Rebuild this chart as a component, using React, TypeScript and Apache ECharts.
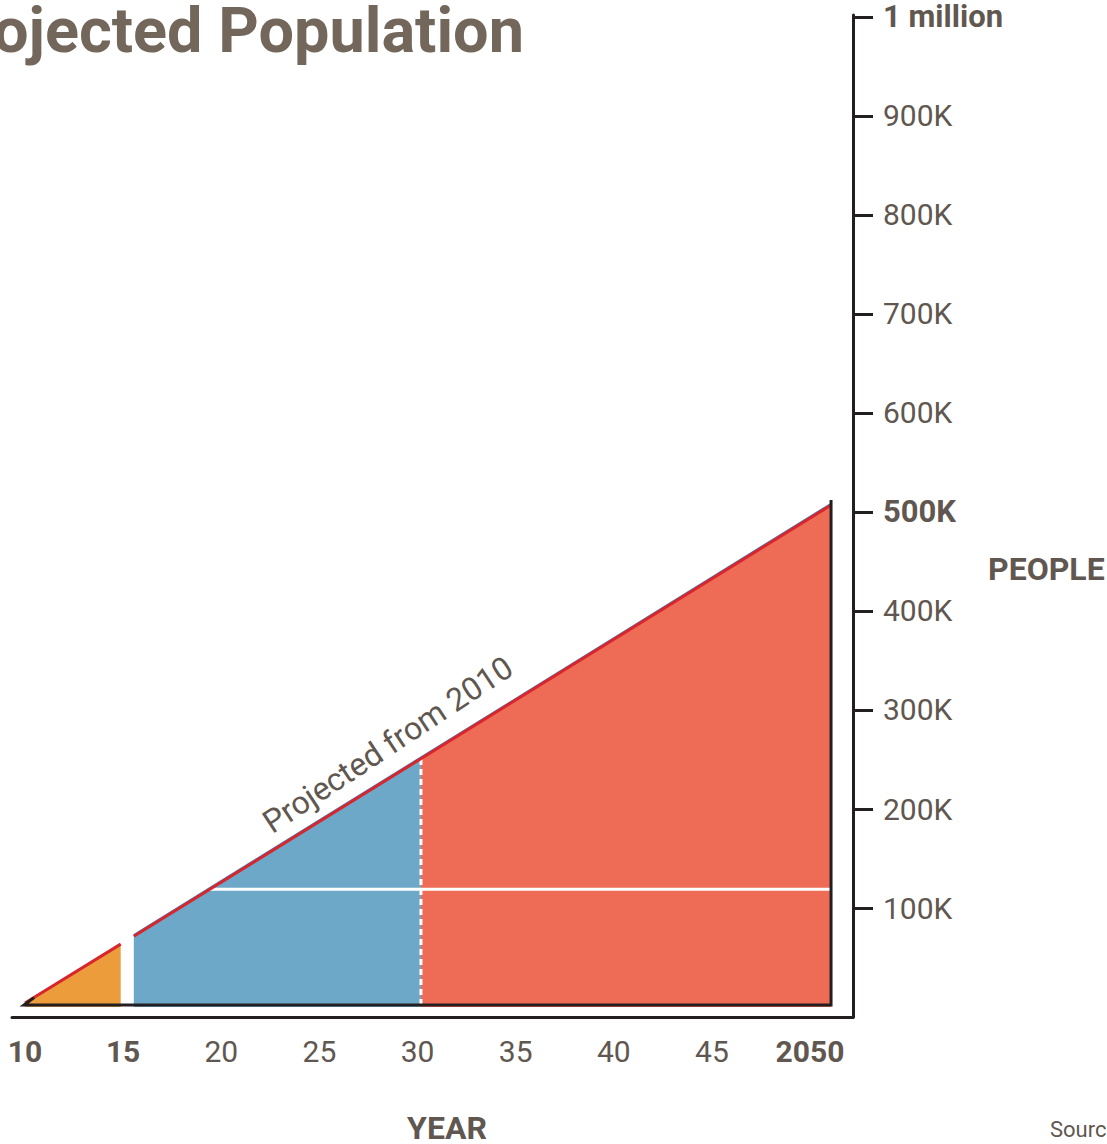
import React, { useEffect, useRef } from "react";
import * as echarts from "echarts";

// ---- data ----
const orangeSegment: [number, number][] = [[2010, 4000], [2014.75, 63500]];
const blueSegment: [number, number][] = [[2015.4, 71500], [2029.65, 252000]];
const redSegment: [number, number][] = [[2029.65, 252000], [2050, 507000]];
const projection: [number, number | string][] = [
  [2010, 4000], [2014.75, 63500], [2015, "-"], [2015.4, 71500], [2050, 507000],
];
const blueEdge: [number, number][] = [[2015.4, 72700], [2050, 508300]];
const benchmarkLine: [number, number][] = [[2018.7, 119000], [2050, 119000]];
const dividerLine: [number, number][] = [[2029.65, 2000], [2029.65, 252000]];
const outline: [number, number][] = [[2050, 512000], [2050, 2000], [2009.95, 2000], [2010.45, 9500]];
const yearTicks = [2010, 2015, 2020, 2025, 2030, 2035, 2040, 2045, 2050];
const boldYears = [2010, 2015, 2050];
const peopleTicks = [100000, 200000, 300000, 400000, 500000, 600000, 700000, 800000, 900000, 1000000];
const projectionLabel = "Projected from 2010";
const labelAnchor: [number, number] = [2028, 265000];

const FONT = "Roboto, 'Noto Sans', sans-serif";
const LABEL = "#5f5750";
const TITLE = "#72675a";
const INK = "#231f20";

export default function App() {
  const ref = useRef<HTMLDivElement>(null);
  useEffect(() => {
    if (!ref.current) return;
    const chart = echarts.init(ref.current, null, { renderer: "svg" });
    const area = (data: [number, number][], color: string) => ({
      type: "line",
      data,
      xAxisIndex: 0,
      showSymbol: false,
      symbol: "none",
      lineStyle: { width: 0 },
      areaStyle: { color, opacity: 1, origin: 0 },
      z: 1,
      silent: true,
    });
    const line = (data: any[], color: string, width: number, z: number, extra: any = {}) => ({
      type: "line",
      data,
      xAxisIndex: 0,
      showSymbol: false,
      symbol: "none",
      connectNulls: false,
      lineStyle: { color, width, ...extra },
      z,
      silent: true,
    });
    chart.setOption({
      animation: false,
      backgroundColor: "#ffffff",
      grid: { left: 12, right: 254, top: 15, bottom: 127, containLabel: false },
      xAxis: [
        {
          type: "value",
          position: "bottom",
          min: 2009.355,
          max: 2051.09,
          axisLine: { show: true, onZero: false, lineStyle: { color: INK, width: 3 } },
          axisTick: { show: false },
          axisLabel: { show: false },
          splitLine: { show: false },
        },
        {
          type: "value",
          position: "bottom",
          min: 2009.3376,
          max: 2052.19,
          axisLine: { show: false, onZero: false },
          axisTick: { show: false },
          splitLine: { show: false },
          axisLabel: {
            show: true,
            customValues: yearTicks,
            margin: 19,
            fontFamily: FONT,
            fontSize: 30,
            color: LABEL,
            formatter: (v: number) => {
              const t = v === 2050 ? "2050" : String(v).slice(2);
              return boldYears.includes(v) ? `{b|${t}}` : t;
            },
            rich: { b: { fontWeight: "bold", fontFamily: FONT, fontSize: 30, color: LABEL } },
          },
        },
      ],
      yAxis: {
        type: "value",
        position: "right",
        min: -10101,
        max: 1002020,
        axisLine: { show: true, onZero: false, lineStyle: { color: INK, width: 3 } },
        axisTick: {
          show: true,
          customValues: peopleTicks,
          length: 20,
          inside: false,
          lineStyle: { color: INK, width: 3 },
        },
        splitLine: { show: false },
        axisLabel: {
          show: true,
          customValues: peopleTicks,
          margin: 30,
          fontFamily: FONT,
          fontSize: 30,
          color: LABEL,
          formatter: (v: number) => {
            if (v === 1000000) return "{b|1 million}";
            if (v === 500000) return "{b|500K}";
            return `${v / 1000}K`;
          },
          rich: { b: { fontWeight: "bold", fontFamily: FONT, fontSize: 31, color: LABEL } },
        },
      },
      series: [
        area(orangeSegment, "#ec9c3a"),
        area(blueSegment, "#6ea8c9"),
        area(redSegment, "#ee6b56"),
        line(benchmarkLine, "#ffffff", 3, 3),
        line(dividerLine, "#ffffff", 3, 3, { type: [6, 4] }),
        line(blueEdge, "#3a80c0", 2, 4),
        {
          ...line(projection, "#d8262d", 3, 5),
          markPoint: {
            symbol: "circle",
            symbolSize: 0,
            silent: true,
            data: [{ coord: labelAnchor, value: projectionLabel }],
            label: {
              show: true,
              position: "inside",
              formatter: projectionLabel,
              rotate: 33.5,
              fontFamily: FONT,
              fontSize: 32,
              color: LABEL,
            },
          },
        },
        line(outline, INK, 3, 6, { join: "miter" }),
      ],
      graphic: [
        {
          type: "text",
          x: 524,
          y: 30,
          style: {
            text: "Projected Population",
            font: `bold 63px ${FONT}`,
            fill: TITLE,
            textAlign: "right",
            textVerticalAlign: "middle",
          },
        },
        {
          type: "text",
          x: 988,
          y: 569,
          style: {
            text: "PEOPLE",
            font: `bold 32px ${FONT}`,
            fill: LABEL,
            textAlign: "left",
            textVerticalAlign: "middle",
          },
        },
        {
          type: "text",
          x: 447,
          y: 1128,
          style: {
            text: "YEAR",
            font: `bold 32px ${FONT}`,
            fill: LABEL,
            textAlign: "center",
            textVerticalAlign: "middle",
          },
        },
        {
          type: "text",
          x: 1050,
          y: 1129,
          style: {
            text: "Source:",
            font: `22px ${FONT}`,
            fill: LABEL,
            textAlign: "left",
            textVerticalAlign: "middle",
          },
        },
      ],
    });
    return () => chart.dispose();
  }, []);
  return <div ref={ref} style={{ width: 1107, height: 1144, position: "absolute", left: 0, top: 0 }} />;
}
